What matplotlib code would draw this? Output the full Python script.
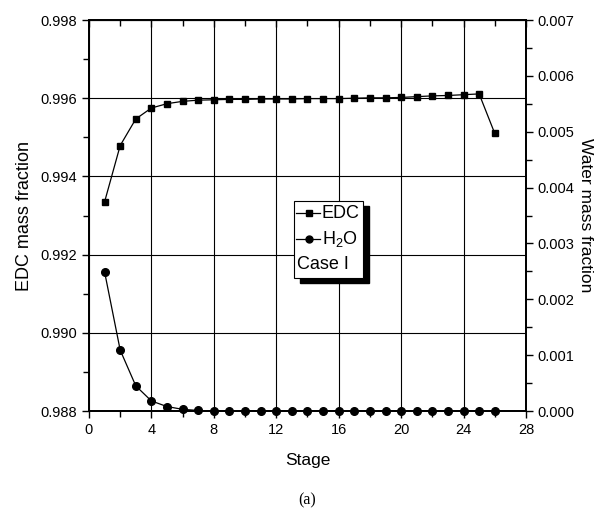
import matplotlib
matplotlib.use("Agg")
import matplotlib.pyplot as plt
from matplotlib.patches import Rectangle
from matplotlib.ticker import MultipleLocator, FormatStrFormatter

plt.rcParams["font.family"] = ["Liberation Sans", "DejaVu Sans"]
plt.rcParams["mathtext.fontset"] = "custom"
plt.rcParams["mathtext.rm"] = "Liberation Sans"
plt.rcParams["mathtext.default"] = "regular"

# data
stages = list(range(1, 27))
edc = [0.99335, 0.99479, 0.99547, 0.99575, 0.99586, 0.99592, 0.99595, 0.99596,
       0.99597, 0.99597, 0.99598, 0.99598, 0.99598, 0.99599, 0.99599, 0.99599,
       0.99600, 0.99601, 0.99601, 0.99602, 0.99604, 0.99606, 0.99607, 0.99609,
       0.99611, 0.99510]
h2o = [0.00249, 0.00109, 0.00045, 0.00018, 0.00008, 0.00003, 0.00001, 0.0,
       0.0, 0.0, 0.0, 0.0, 0.0, 0.0, 0.0, 0.0, 0.0, 0.0, 0.0, 0.0, 0.0, 0.0,
       0.0, 0.0, 0.0, 0.0]
legend_labels = ["EDC", "H$_2$O", "Case I"]

fig = plt.figure(figsize=(5.96, 5.08), dpi=100)
ax = fig.add_axes([0.1493, 0.1909, 0.7332, 0.7697])
ax2 = ax.twinx()

ax.plot(stages, edc, color="black", lw=0.9, marker="s", ms=5, zorder=3)
ax2.plot(stages, h2o, color="black", lw=0.9, marker="o", ms=5.5, clip_on=False, zorder=3)

ax.set_xlim(0, 28)
ax.set_ylim(0.988, 0.998)
ax2.set_ylim(0, 0.007)

ax.xaxis.set_major_locator(MultipleLocator(4))
ax.xaxis.set_minor_locator(MultipleLocator(2))
ax.yaxis.set_major_locator(MultipleLocator(0.002))
ax.yaxis.set_minor_locator(MultipleLocator(0.001))
ax.yaxis.set_major_formatter(FormatStrFormatter("%.3f"))
ax2.yaxis.set_major_locator(MultipleLocator(0.001))
ax2.yaxis.set_minor_locator(MultipleLocator(0.0005))
ax2.yaxis.set_major_formatter(FormatStrFormatter("%.3f"))

ax.grid(True, which="major", color="black", lw=0.8)
ax.set_axisbelow(True)

for a in (ax, ax2):
    for s in a.spines.values():
        s.set_linewidth(1.3)

ax.tick_params(axis="x", which="both", direction="out", top=False, labelsize=10.5, width=1)
ax.tick_params(axis="x", which="major", length=5)
ax.tick_params(axis="x", which="minor", length=4)
ax.tick_params(axis="y", which="major", direction="out", length=5, width=1, labelsize=10.5)
ax.tick_params(axis="y", which="minor", direction="out", length=4, width=1)
ax2.tick_params(axis="y", which="major", direction="out", length=5, width=1, labelsize=10.5)
ax2.tick_params(axis="y", which="minor", direction="out", length=4, width=1)

# top ticks pointing inward
top = ax.secondary_xaxis("top")
top.xaxis.set_major_locator(MultipleLocator(4))
top.xaxis.set_minor_locator(MultipleLocator(2))
top.tick_params(which="both", direction="in", labeltop=False, width=1)
top.tick_params(which="major", length=5)
top.tick_params(which="minor", length=4)

ax.set_xlabel("Stage", fontsize=12.5, labelpad=12)
ax.set_ylabel("EDC mass fraction", fontsize=13, labelpad=5)
ax2.set_ylabel("Water mass fraction", fontsize=12.5, rotation=270, labelpad=13)

# legend box with a solid shadow
x0, x1, y0, y1 = 0.469, 0.627, 0.340, 0.537
dx, dy = 0.0137, 0.0128
ax2.add_patch(Rectangle((x0 + dx, y0 - dy), x1 - x0, y1 - y0, transform=ax2.transAxes,
                        facecolor="black", edgecolor="black", zorder=5, clip_on=False))
ax2.add_patch(Rectangle((x0, y0), x1 - x0, y1 - y0, transform=ax2.transAxes,
                        facecolor="white", edgecolor="black", lw=0.8, zorder=6, clip_on=False))
rows = [0.506, 0.440]
markers = ["s", "o"]
for yy, mk, lab in zip(rows, markers, legend_labels[:2]):
    ax2.plot([0.474, 0.529], [yy, yy], color="black", lw=0.9, transform=ax2.transAxes,
             zorder=7, clip_on=False)
    ax2.plot([0.503], [yy], color="black", marker=mk, ms=5, transform=ax2.transAxes,
             zorder=7, clip_on=False)
    ax2.text(0.533, yy, lab, transform=ax2.transAxes, fontsize=13, va="center",
             ha="left", zorder=8)
ax2.text(0.475, 0.374, legend_labels[2], transform=ax2.transAxes, fontsize=13,
         va="center", ha="left", zorder=8)

fig.text(0.5 * (0.1493 + 0.8826), (508 - 500) / 508, "(a)", family="Liberation Serif",
         fontsize=11.5, ha="center", va="center")

fig.savefig("out.png", dpi=100)
